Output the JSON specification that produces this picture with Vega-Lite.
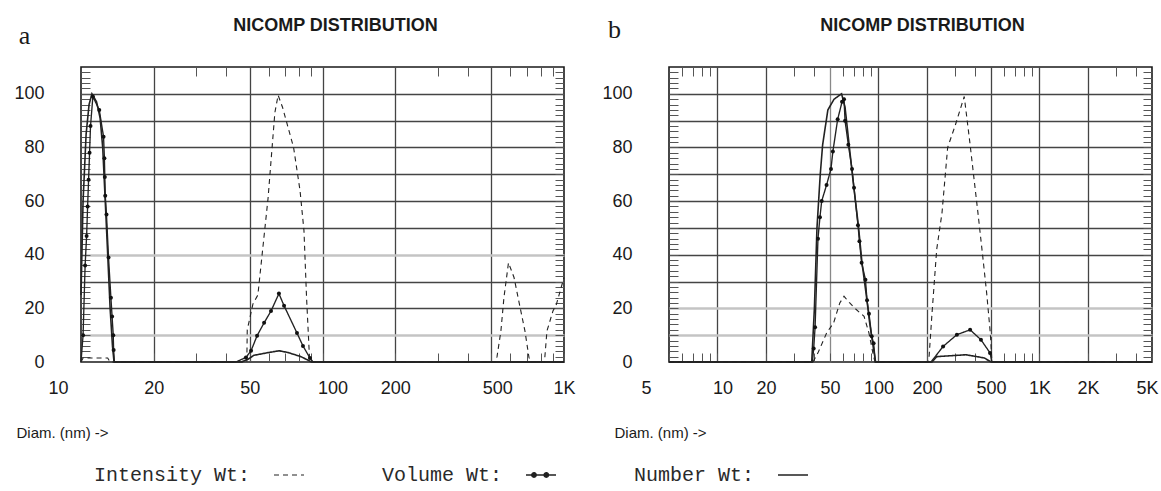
{
  "$schema": "https://vega.github.io/schema/vega-lite/v6.json",
  "background": "white",
  "padding": {"left": 13, "top": 15, "right": 0, "bottom": 0},
  "bounds": "flush",
  "spacing": 105,
  "config": {
    "view": {"stroke": "#1a1a1a", "strokeWidth": 1.6},
    "font": "Liberation Sans",
    "axis": {"domain": false, "labelFont": "Liberation Sans", "labelFontSize": 18, "labelColor": "#1a1a1a", "tickColor": "#555", "titleFont": "Liberation Sans", "titleFontWeight": "normal", "titleColor": "#1a1a1a"},
    "title": {"font": "Liberation Sans", "fontSize": 18, "fontWeight": "bold", "color": "#1a1a1a"}
  },
  "resolve": {"scale": {"strokeDash": "independent", "strokeWidth": "independent"}, "legend": {"strokeDash": "independent"}},
  "datasets": {
    "a": [
      {"series": "Intensity Wt:", "d": 10, "v": 0},
      {"series": "Intensity Wt:", "d": 10.2, "v": 1.5},
      {"series": "Intensity Wt:", "d": 11, "v": 1.5},
      {"series": "Intensity Wt:", "d": 12, "v": 1.5},
      {"series": "Intensity Wt:", "d": 12.9, "v": 1.5},
      {"series": "Intensity Wt:", "d": 13.2, "v": 0},
      {"series": "Intensity Wt:", "d": 48.6, "v": 0},
      {"series": "Intensity Wt:", "d": 48.8, "v": 12},
      {"series": "Intensity Wt:", "d": 51.5, "v": 21.6},
      {"series": "Intensity Wt:", "d": 54, "v": 25},
      {"series": "Intensity Wt:", "d": 59.5, "v": 61},
      {"series": "Intensity Wt:", "d": 63.5, "v": 93},
      {"series": "Intensity Wt:", "d": 65.5, "v": 99.5},
      {"series": "Intensity Wt:", "d": 68.3, "v": 95},
      {"series": "Intensity Wt:", "d": 75.9, "v": 80},
      {"series": "Intensity Wt:", "d": 80.7, "v": 64},
      {"series": "Intensity Wt:", "d": 83.8, "v": 49},
      {"series": "Intensity Wt:", "d": 85.9, "v": 24},
      {"series": "Intensity Wt:", "d": 88.3, "v": 2},
      {"series": "Intensity Wt:", "d": 89, "v": 0},
      {"series": "Intensity Wt:", "d": 520, "v": 0},
      {"series": "Intensity Wt:", "d": 528, "v": 2},
      {"series": "Intensity Wt:", "d": 548, "v": 11.6},
      {"series": "Intensity Wt:", "d": 564, "v": 24},
      {"series": "Intensity Wt:", "d": 589, "v": 37},
      {"series": "Intensity Wt:", "d": 621, "v": 31.5},
      {"series": "Intensity Wt:", "d": 654, "v": 21.5},
      {"series": "Intensity Wt:", "d": 689, "v": 11.6},
      {"series": "Intensity Wt:", "d": 716, "v": 1.7},
      {"series": "Intensity Wt:", "d": 730, "v": 0},
      {"series": "Intensity Wt:", "d": 830, "v": 0},
      {"series": "Intensity Wt:", "d": 850, "v": 11.6},
      {"series": "Intensity Wt:", "d": 900, "v": 19},
      {"series": "Intensity Wt:", "d": 930, "v": 21.5},
      {"series": "Intensity Wt:", "d": 982, "v": 29},
      {"series": "Intensity Wt:", "d": 1000, "v": 31.5},
      {"series": "Volume Wt:", "d": 10, "v": 0},
      {"series": "Volume Wt:", "d": 10.2, "v": 10},
      {"series": "Volume Wt:", "d": 10.4, "v": 36},
      {"series": "Volume Wt:", "d": 10.55, "v": 47},
      {"series": "Volume Wt:", "d": 10.65, "v": 58},
      {"series": "Volume Wt:", "d": 10.75, "v": 68},
      {"series": "Volume Wt:", "d": 10.85, "v": 78},
      {"series": "Volume Wt:", "d": 10.95, "v": 88},
      {"series": "Volume Wt:", "d": 11.2, "v": 99},
      {"series": "Volume Wt:", "d": 11.9, "v": 94},
      {"series": "Volume Wt:", "d": 12.4, "v": 84},
      {"series": "Volume Wt:", "d": 12.5, "v": 76},
      {"series": "Volume Wt:", "d": 12.55, "v": 69},
      {"series": "Volume Wt:", "d": 12.6, "v": 62},
      {"series": "Volume Wt:", "d": 12.75, "v": 55},
      {"series": "Volume Wt:", "d": 13.0, "v": 39},
      {"series": "Volume Wt:", "d": 13.3, "v": 24},
      {"series": "Volume Wt:", "d": 13.45, "v": 17},
      {"series": "Volume Wt:", "d": 13.6, "v": 10},
      {"series": "Volume Wt:", "d": 13.65, "v": 4.5},
      {"series": "Volume Wt:", "d": 13.75, "v": 0},
      {"series": "Volume Wt:", "d": 43.8, "v": 0},
      {"series": "Volume Wt:", "d": 48.2, "v": 1.7},
      {"series": "Volume Wt:", "d": 50.6, "v": 4.2},
      {"series": "Volume Wt:", "d": 53.6, "v": 9.8},
      {"series": "Volume Wt:", "d": 57.3, "v": 14.6},
      {"series": "Volume Wt:", "d": 61.2, "v": 19},
      {"series": "Volume Wt:", "d": 66, "v": 25.5},
      {"series": "Volume Wt:", "d": 69.3, "v": 21},
      {"series": "Volume Wt:", "d": 78.4, "v": 10.8},
      {"series": "Volume Wt:", "d": 83, "v": 6},
      {"series": "Volume Wt:", "d": 88.7, "v": 1.5},
      {"series": "Volume Wt:", "d": 91.4, "v": 0},
      {"series": "Volume Wt:", "d": 1000, "v": 0},
      {"series": "Number Wt:", "d": 10, "v": 25},
      {"series": "Number Wt:", "d": 10.2, "v": 60},
      {"series": "Number Wt:", "d": 10.5, "v": 85},
      {"series": "Number Wt:", "d": 10.8, "v": 96},
      {"series": "Number Wt:", "d": 11.1, "v": 100},
      {"series": "Number Wt:", "d": 11.6, "v": 97},
      {"series": "Number Wt:", "d": 12.0, "v": 91},
      {"series": "Number Wt:", "d": 12.3, "v": 80},
      {"series": "Number Wt:", "d": 12.6, "v": 60},
      {"series": "Number Wt:", "d": 12.9, "v": 40},
      {"series": "Number Wt:", "d": 13.2, "v": 20},
      {"series": "Number Wt:", "d": 13.5, "v": 6},
      {"series": "Number Wt:", "d": 13.7, "v": 0},
      {"series": "Number Wt:", "d": 46, "v": 0},
      {"series": "Number Wt:", "d": 49.1, "v": 1},
      {"series": "Number Wt:", "d": 52, "v": 2.5},
      {"series": "Number Wt:", "d": 59.5, "v": 3.5},
      {"series": "Number Wt:", "d": 66.1, "v": 4.2},
      {"series": "Number Wt:", "d": 72.2, "v": 3.5},
      {"series": "Number Wt:", "d": 81.4, "v": 2},
      {"series": "Number Wt:", "d": 87.9, "v": 0.5},
      {"series": "Number Wt:", "d": 90, "v": 0},
      {"series": "Number Wt:", "d": 1000, "v": 0}
    ],
    "b": [
      {"series": "Intensity Wt:", "d": 5, "v": 0},
      {"series": "Intensity Wt:", "d": 39.2, "v": 0},
      {"series": "Intensity Wt:", "d": 42.1, "v": 3.4},
      {"series": "Intensity Wt:", "d": 47.8, "v": 11},
      {"series": "Intensity Wt:", "d": 52.6, "v": 14.5},
      {"series": "Intensity Wt:", "d": 57.5, "v": 22},
      {"series": "Intensity Wt:", "d": 61.1, "v": 24.5},
      {"series": "Intensity Wt:", "d": 66.3, "v": 22},
      {"series": "Intensity Wt:", "d": 71.5, "v": 20},
      {"series": "Intensity Wt:", "d": 81.4, "v": 17},
      {"series": "Intensity Wt:", "d": 87.3, "v": 10.8},
      {"series": "Intensity Wt:", "d": 93.3, "v": 2},
      {"series": "Intensity Wt:", "d": 95.3, "v": 0},
      {"series": "Intensity Wt:", "d": 204, "v": 0},
      {"series": "Intensity Wt:", "d": 206, "v": 1.5},
      {"series": "Intensity Wt:", "d": 215, "v": 18},
      {"series": "Intensity Wt:", "d": 230, "v": 42},
      {"series": "Intensity Wt:", "d": 248, "v": 55.5},
      {"series": "Intensity Wt:", "d": 269, "v": 80},
      {"series": "Intensity Wt:", "d": 299, "v": 88},
      {"series": "Intensity Wt:", "d": 341, "v": 99},
      {"series": "Intensity Wt:", "d": 370, "v": 81.6},
      {"series": "Intensity Wt:", "d": 415, "v": 55.5},
      {"series": "Intensity Wt:", "d": 445, "v": 39},
      {"series": "Intensity Wt:", "d": 470, "v": 25.7},
      {"series": "Intensity Wt:", "d": 495, "v": 10.8},
      {"series": "Intensity Wt:", "d": 507, "v": 0},
      {"series": "Intensity Wt:", "d": 5000, "v": 0},
      {"series": "Volume Wt:", "d": 5, "v": 0},
      {"series": "Volume Wt:", "d": 38.9, "v": 0},
      {"series": "Volume Wt:", "d": 39.6, "v": 5},
      {"series": "Volume Wt:", "d": 40.4, "v": 13},
      {"series": "Volume Wt:", "d": 42.1, "v": 46},
      {"series": "Volume Wt:", "d": 43.3, "v": 54},
      {"series": "Volume Wt:", "d": 44.4, "v": 60},
      {"series": "Volume Wt:", "d": 47.6, "v": 66},
      {"series": "Volume Wt:", "d": 50.7, "v": 72},
      {"series": "Volume Wt:", "d": 52.1, "v": 78.5},
      {"series": "Volume Wt:", "d": 55.8, "v": 90.5},
      {"series": "Volume Wt:", "d": 59.4, "v": 97},
      {"series": "Volume Wt:", "d": 61.1, "v": 98},
      {"series": "Volume Wt:", "d": 62, "v": 90},
      {"series": "Volume Wt:", "d": 65, "v": 81},
      {"series": "Volume Wt:", "d": 68.5, "v": 72},
      {"series": "Volume Wt:", "d": 70.5, "v": 65},
      {"series": "Volume Wt:", "d": 74.6, "v": 51},
      {"series": "Volume Wt:", "d": 76.2, "v": 45},
      {"series": "Volume Wt:", "d": 78.6, "v": 37},
      {"series": "Volume Wt:", "d": 83, "v": 30.7},
      {"series": "Volume Wt:", "d": 84.9, "v": 23},
      {"series": "Volume Wt:", "d": 87.3, "v": 18},
      {"series": "Volume Wt:", "d": 90.8, "v": 9.6},
      {"series": "Volume Wt:", "d": 93.3, "v": 7},
      {"series": "Volume Wt:", "d": 95.7, "v": 0},
      {"series": "Volume Wt:", "d": 212, "v": 0},
      {"series": "Volume Wt:", "d": 252, "v": 5.8},
      {"series": "Volume Wt:", "d": 307, "v": 10.2},
      {"series": "Volume Wt:", "d": 371, "v": 12},
      {"series": "Volume Wt:", "d": 433, "v": 8.3},
      {"series": "Volume Wt:", "d": 493, "v": 3.4},
      {"series": "Volume Wt:", "d": 507, "v": 0},
      {"series": "Volume Wt:", "d": 5000, "v": 0},
      {"series": "Number Wt:", "d": 5, "v": 0},
      {"series": "Number Wt:", "d": 38.5, "v": 0},
      {"series": "Number Wt:", "d": 40, "v": 20},
      {"series": "Number Wt:", "d": 41.5, "v": 50},
      {"series": "Number Wt:", "d": 43.5, "v": 70},
      {"series": "Number Wt:", "d": 45, "v": 81},
      {"series": "Number Wt:", "d": 48.5, "v": 94},
      {"series": "Number Wt:", "d": 53, "v": 98},
      {"series": "Number Wt:", "d": 59, "v": 100},
      {"series": "Number Wt:", "d": 62, "v": 95},
      {"series": "Number Wt:", "d": 66, "v": 80},
      {"series": "Number Wt:", "d": 70, "v": 66},
      {"series": "Number Wt:", "d": 75, "v": 51},
      {"series": "Number Wt:", "d": 79, "v": 37},
      {"series": "Number Wt:", "d": 84, "v": 25},
      {"series": "Number Wt:", "d": 88, "v": 15},
      {"series": "Number Wt:", "d": 92, "v": 7},
      {"series": "Number Wt:", "d": 96, "v": 0},
      {"series": "Number Wt:", "d": 215, "v": 0},
      {"series": "Number Wt:", "d": 230, "v": 2},
      {"series": "Number Wt:", "d": 350, "v": 2.7},
      {"series": "Number Wt:", "d": 455, "v": 1.5},
      {"series": "Number Wt:", "d": 500, "v": 0},
      {"series": "Number Wt:", "d": 5000, "v": 0}
    ]
  },
  "hconcat": [
    {
      "width": 483,
      "height": 295,
      "data": {"name": "a"},
      "title": {"text": "NICOMP DISTRIBUTION", "dx": 13, "offset": -13, "frame": "group"},
      "resolve": {"axis": {"x": "independent", "y": "independent"}},
      "layer": [
        {
          "mark": {"type": "line", "color": "#222"},
          "encoding": {
            "x": {"field": "d", "type": "quantitative", "scale": {"type": "log", "domain": [10, 1000], "nice": false},
              "axis": {"orient": "bottom", "values": [10,20,30,40,50,60,70,80,90,100,200,300,400,500,600,700,800,900,1000],
                "labelExpr": "indexof([10,20,50,100,200,500,1000], datum.value) >= 0 ? (datum.value >= 1000 ? (datum.value/1000) + 'K' : '' + datum.value) : ''",
                "labelOverlap": false, "labelFlush": false,
                "labelOffset": {"condition": [{"test": "datum.value == 10", "value": -23}, {"test": "datum.value == 100", "value": 10}, {"test": "datum.value == 500", "value": 6}], "value": 0},
                "labelPadding": 26, "tickSize": -9,
                "grid": true,
                "gridColor": {"condition": {"test": "indexof([20,50,100,200,500], datum.value) >= 0", "value": "#444"}, "value": "transparent"},
                "gridWidth": 1.3,
                "title": "Diam. (nm) ->", "titleAnchor": "start", "titleAlign": "left", "titleBaseline": "middle", "titleX": -65, "titleY": 70, "titleFontSize": 15}},
            "y": {"field": "v", "type": "quantitative", "scale": {"domain": [0, 110], "nice": false},
              "axis": {"orient": "left", "values": [0,2,4,6,8,10,12,14,16,18,20,22,24,26,28,30,32,34,36,38,40,42,44,46,48,50,52,54,56,58,60,62,64,66,68,70,72,74,76,78,80,82,84,86,88,90,92,94,96,98,100,102,104,106,108],
                "labelExpr": "datum.value % 20 == 0 ? '' + datum.value : ''",
                "labelPadding": 46, "tickSize": -9,
                "grid": true,
                "gridColor": {"condition": [{"test": "datum.value == 40 || datum.value == 10", "value": "#c4c4c4"}, {"test": "datum.value % 10 == 0 && datum.value > 0", "value": "#444"}], "value": "transparent"},
                "gridWidth": {"condition": {"test": "datum.value == 40 || datum.value == 10", "value": 2.6}, "value": 1.3},
                "title": "a", "titleAngle": 0, "titleFont": "Liberation Serif", "titleFontSize": 26, "titleAlign": "center", "titleBaseline": "middle", "titleX": -57, "titleY": -32}},
            "strokeDash": {"field": "series", "type": "nominal",
              "scale": {"domain": ["Intensity Wt:", "Volume Wt:", "Number Wt:"], "range": [[5, 4], [1, 0], [1, 0]]},
              "legend": {"orient": "none", "legendX": 192, "legendY": 392, "direction": "horizontal", "title": null,
                "symbolType": "stroke", "symbolSize": 900, "symbolStrokeColor": "#222", "symbolStrokeWidth": 1.2, "symbolFillColor": "#222",
                "labelFont": "Liberation Mono", "labelFontSize": 20, "labelColor": "#2a2a2a", "labelLimit": 0,
                "labelAlign": "right", "labelOffset": -55, "columnPadding": 74,
                "encode": {"symbols": {"update": {"shape": {"signal": "datum.value === 'Volume Wt:' ? 'M-1,0L1,0M-0.62,0a0.15,0.15 0 1,0 0.3,0a0.15,0.15 0 1,0 -0.3,0M0.2,0a0.15,0.15 0 1,0 0.3,0a0.15,0.15 0 1,0 -0.3,0' : 'stroke'"}, "fill": {"value": "#222"}, "stroke": {"value": "#222"}, "strokeWidth": {"value": 1.2}, "opacity": {"value": 1}}}}}},
            "strokeWidth": {"field": "series", "type": "nominal",
              "scale": {"domain": ["Intensity Wt:", "Volume Wt:", "Number Wt:"], "range": [1.1, 1.6, 0.9]}, "legend": null}
          }
        },
        {
          "transform": [{"filter": "datum.series == 'Volume Wt:' && datum.v > 0"}],
          "mark": {"type": "point", "filled": true, "size": 16, "color": "#111", "opacity": 1},
          "encoding": {
            "x": {"field": "d", "type": "quantitative", "scale": {"type": "log", "domain": [10, 1000], "nice": false},
              "axis": {"orient": "top", "values": [30,40,60,70,80,90,300,400,600,700,800,900], "labels": false, "grid": false, "tickSize": -9, "title": null}},
            "y": {"field": "v", "type": "quantitative", "scale": {"domain": [0, 110], "nice": false},
              "axis": {"orient": "right", "values": [2,4,6,8,10,12,14,16,18,20,22,24,26,28,30,32,34,36,38,40,42,44,46,48,50,52,54,56,58,60,62,64,66,68,70,72,74,76,78,80,82,84,86,88,90,92,94,96,98,100,102,104,106,108], "labels": false, "grid": false, "tickSize": -9, "title": null}}
          }
        }
      ]
    },
    {
      "width": 483,
      "height": 295,
      "data": {"name": "b"},
      "title": {"text": "NICOMP DISTRIBUTION", "dx": 12, "offset": -19, "frame": "group"},
      "resolve": {"axis": {"x": "independent", "y": "independent"}},
      "layer": [
        {
          "mark": {"type": "line", "color": "#222"},
          "encoding": {
            "x": {"field": "d", "type": "quantitative", "scale": {"type": "log", "domain": [5, 5000], "nice": false},
              "axis": {"orient": "bottom", "values": [5,6,7,8,9,10,20,30,40,50,60,70,80,90,100,200,300,400,500,600,700,800,900,1000,2000,3000,4000,5000],
                "labelExpr": "indexof([5,10,20,50,100,200,500,1000,2000,5000], datum.value) >= 0 ? (datum.value >= 1000 ? (datum.value/1000) + 'K' : '' + datum.value) : ''",
                "labelOverlap": false, "labelFlush": false,
                "labelOffset": {"condition": [{"test": "datum.value == 5", "value": -23}, {"test": "datum.value == 10", "value": 5}, {"test": "datum.value == 5000", "value": -5}], "value": 0},
                "labelPadding": 26, "tickSize": -9,
                "grid": true,
                "gridColor": {"condition": [{"test": "datum.value == 50", "value": "#888"}, {"test": "indexof([10,20,100,200,500,1000,2000], datum.value) >= 0", "value": "#444"}], "value": "transparent"},
                "gridWidth": 1.3,
                "title": "Diam. (nm) ->", "titleAnchor": "start", "titleAlign": "left", "titleBaseline": "middle", "titleX": -55, "titleY": 70, "titleFontSize": 15}},
            "y": {"field": "v", "type": "quantitative", "scale": {"domain": [0, 110], "nice": false},
              "axis": {"orient": "left", "values": [0,2,4,6,8,10,12,14,16,18,20,22,24,26,28,30,32,34,36,38,40,42,44,46,48,50,52,54,56,58,60,62,64,66,68,70,72,74,76,78,80,82,84,86,88,90,92,94,96,98,100,102,104,106,108],
                "labelExpr": "datum.value % 20 == 0 ? '' + datum.value : ''",
                "labelPadding": 46, "tickSize": -9,
                "grid": true,
                "gridColor": {"condition": [{"test": "datum.value == 20 || datum.value == 10", "value": "#c4c4c4"}, {"test": "datum.value % 10 == 0 && datum.value > 0", "value": "#444"}], "value": "transparent"},
                "gridWidth": {"condition": {"test": "datum.value == 20 || datum.value == 10", "value": 2.6}, "value": 1.3},
                "title": "b", "titleAngle": 0, "titleFont": "Liberation Serif", "titleFontSize": 26, "titleAlign": "center", "titleBaseline": "middle", "titleX": -55, "titleY": -38}},
            "strokeDash": {"field": "series", "type": "nominal",
              "scale": {"domain": ["Intensity Wt:", "Volume Wt:", "Number Wt:"], "range": [[5, 4], [1, 0], [1, 0]]}, "legend": null},
            "strokeWidth": {"field": "series", "type": "nominal",
              "scale": {"domain": ["Intensity Wt:", "Volume Wt:", "Number Wt:"], "range": [1.1, 1.6, 0.9]}, "legend": null}
          }
        },
        {
          "transform": [{"filter": "datum.series == 'Volume Wt:' && datum.v > 0"}],
          "mark": {"type": "point", "filled": true, "size": 16, "color": "#111", "opacity": 1},
          "encoding": {
            "x": {"field": "d", "type": "quantitative", "scale": {"type": "log", "domain": [5, 5000], "nice": false},
              "axis": {"orient": "top", "values": [6,7,8,9,30,40,60,70,80,90,300,400,600,700,800,900,3000,4000], "labels": false, "grid": false, "tickSize": -9, "title": null}},
            "y": {"field": "v", "type": "quantitative", "scale": {"domain": [0, 110], "nice": false},
              "axis": {"orient": "right", "values": [2,4,6,8,10,12,14,16,18,20,22,24,26,28,30,32,34,36,38,40,42,44,46,48,50,52,54,56,58,60,62,64,66,68,70,72,74,76,78,80,82,84,86,88,90,92,94,96,98,100,102,104,106,108], "labels": false, "grid": false, "tickSize": -9, "title": null}}
          }
        }
      ]
    }
  ]
}
